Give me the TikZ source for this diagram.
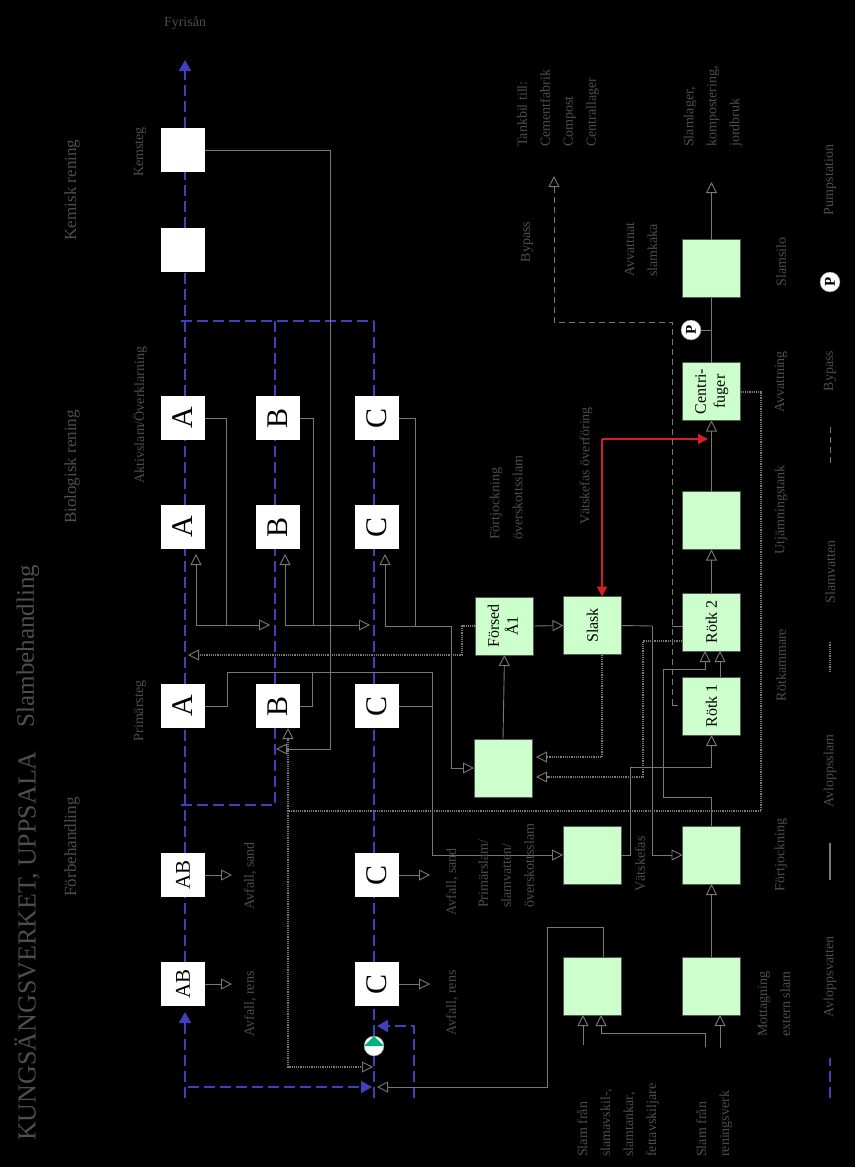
\documentclass[tikz,border=0pt]{standalone}
\usepackage{fontspec}
\usepackage{graphicx}
\setmainfont{Liberation Serif}
\usetikzlibrary{arrows.meta}

\definecolor{vattenblue}{RGB}{64,64,190}
\definecolor{slamgreen}{RGB}{204,255,204}
\definecolor{pumpgreen}{RGB}{0,175,130}
\definecolor{rejectred}{RGB}{210,32,40}
\definecolor{linegray}{RGB}{120,120,120}
\definecolor{labelgray}{RGB}{78,78,78}

\newcommand{\rot}[1]{\rotatebox{90}{#1}}
\newcommand{\twolines}[2]{\rot{\begin{tabular}{@{}c@{}}#1\\#2\end{tabular}}}

\tikzset{
    whitebox/.style={fill=white, minimum size=44pt, inner sep=0pt, outer sep=0pt, font=\fontsize{30}{30}\selectfont},
    greenbox/.style={fill=slamgreen, draw=linegray!70!black, line width=0.8pt, minimum size=58pt, inner sep=0pt, outer sep=0pt, font=\fontsize{16}{19}\selectfont},
    pumpcircle/.style={circle, fill=white, draw=linegray, minimum size=20pt, inner sep=0pt, outer sep=0pt, font=\bfseries\fontsize{15}{15}\selectfont},
    lbl/.style={rotate=90, text=labelgray, inner sep=0pt, font=\fontsize{14}{23}\selectfont, align=left},
    heading/.style={lbl, font=\fontsize{17}{20}\selectfont},
    vatten/.style={draw=vattenblue, line width=2pt, dash pattern=on 11pt off 5pt},
    vattenarrow/.style={vatten, -{Triangle[length=11pt,width=12pt]}},
    flow/.style={draw=linegray, line width=0.9pt},
    flowarrow/.style={flow, -{Triangle[open,length=11pt,width=11pt]}},
    slamvatten/.style={draw=linegray, line width=2pt, dash pattern=on 1.2pt off 1pt},
    slamarrow/.style={slamvatten, -{Triangle[open,length=11pt,width=11pt,line width=0.9pt,sep=0pt]}},
    bypass/.style={draw=linegray, line width=1pt, dash pattern=on 6pt off 4pt},
    reject/.style={draw=rejectred, line width=2pt, -{Triangle[length=10pt,width=10pt]}},
}

\begin{document}
\begin{tikzpicture}[x=1pt, y=-1pt]
    \fill[black] (0,0) rectangle (855,1167);
    \useasboundingbox (0,0) rectangle (855,1167);

    % Water line boxes
    \node[whitebox] (kem2) at (183,150) {};
    \node[whitebox] (kem1) at (183,250) {};
    \foreach \lane/\x in {A/183, B/278, C/377} {
        \node[whitebox] (bio\lane2) at (\x,418) {\rot{\lane}};
        \node[whitebox] (bio\lane1) at (\x,527) {\rot{\lane}};
        \node[whitebox] (prim\lane) at (\x,706) {\rot{\lane}};
    }
    \node[whitebox, font=\fontsize{21}{21}\selectfont] (preAB2) at (183,875) {\rot{AB}};
    \node[whitebox, font=\fontsize{21}{21}\selectfont] (preAB1) at (183,984) {\rot{AB}};
    \node[whitebox] (preC2) at (377,875) {\rot{C}};
    \node[whitebox] (preC1) at (377,984) {\rot{C}};

    % Sludge line boxes
    \node[greenbox] (motA) at (592.5,986) {};
    \node[greenbox] (motB) at (711.5,986) {};
    \node[greenbox] (fortA) at (592,855) {};
    \node[greenbox] (fortB) at (711.5,855) {};
    \node[greenbox] (mellan) at (503,768) {};
    \node[greenbox] (forsed) at (504.5,626) {\twolines{Försed}{Å1}};
    \node[greenbox] (slask) at (592.5,625.5) {\rot{Slask}};
    \node[greenbox] (rotk1) at (711.5,706) {\rot{Rötk 1}};
    \node[greenbox] (rotk2) at (711.5,622) {\rot{Rötk 2}};
    \node[greenbox] (utj) at (711.5,520.5) {};
    \node[greenbox] (cent) at (711.5,391.5) {\twolines{Centri-}{fuger}};
    \node[greenbox] (silo) at (711.5,268.5) {};

    % Pumps
    \node[pumpcircle] (pump) at (374,1046) {};
    \node[pumpcircle] (pumpP) at (691,330) {\rot{P}};
    \node[pumpcircle] (pumpL) at (830,282) {\rot{P}};
    \fill[pumpgreen] (pump.west) -- (pump.north) -- (pump.east) -- cycle;

    % Blue lanes for the three treatment lines
    \coordinate (laneA) at (185,60);
    \coordinate (laneB) at (275,321);
    \coordinate (laneC) at (374,321);
    \coordinate (startA) at (185,1098);
    \coordinate (startC) at (374,1098);
    \coordinate (splitL) at (181,321);
    \coordinate (splitB) at (180,805);
    \foreach \a/\b in {preAB1/preAB2, preAB2/primA, primA/bioA1, bioA1/bioA2, bioA2/kem1, kem1/kem2} {
        \draw[vatten] (laneA |- \a.north) -- (laneA |- \b.south);
    }
    \foreach \a/\b in {preC1/preC2, preC2/primC, primC/bioC1, bioC1/bioC2} {
        \draw[vatten] (laneC |- \a.north) -- (laneC |- \b.south);
    }
    \draw[vatten] (laneB |- primB.north) -- (laneB |- bioB1.south);
    \draw[vatten] (laneB |- bioB1.north) -- (laneB |- bioB2.south);
    \draw[vatten] (laneB |- bioB2.north) -- (laneB);
    \draw[vatten] (laneC |- bioC2.north) -- (laneC);
    \draw[vatten] (splitL) -- (laneC);
    \draw[vatten] (laneB |- primB.south) |- (splitB);
    \draw[vatten] (startC) -- (pump.south);
    \draw[vatten] (pump.north) -- (laneC |- preC1.south);
    \draw[vattenarrow] (laneA |- kem2.north) -- (laneA);
    \draw[vattenarrow, shorten >=6pt] (startA) -- (laneA |- preAB1.south);

    % Inflow and return on the blue side
    \coordinate (inflowA) at (188,1087);
    \coordinate (inflowC) at (372,1087);
    \coordinate (retfoot) at (414,1098);
    \coordinate (rettip) at (377,1026);
    \draw[vattenarrow] (inflowA) -- (inflowC);
    \draw[vattenarrow] (retfoot) |- (rettip);

    % Screenings and grit out of the pretreatment
    \foreach \n in {preAB1, preAB2} {
        \draw[flowarrow] (\n.east) -- ++(27,0);
    }
    \foreach \n in {preC1, preC2} {
        \draw[flowarrow] (\n.east) -- ++(31,0);
    }

    % Return sludge from the biological step
    \foreach \lane/\up/\join/\stop in {A/196/226/270, B/285/313/370} {
        \coordinate (ret\lane) at (\up,625);
        \coordinate (join\lane) at (\join,625);
        \coordinate (stop\lane) at (\stop,625);
        \draw[flow] (bio\lane2.east) -| (join\lane);
        \draw[flowarrow] (ret\lane) -- (stop\lane);
        \draw[flowarrow, shorten >=5pt] (ret\lane) -- (ret\lane |- bio\lane1.south);
    }
    \coordinate (retC) at (385,626);
    \coordinate (joinC) at (415,626);
    \coordinate (retD) at (451,626);
    \draw[flow] (bioC2.east) -| (joinC);
    \draw[flowarrow, shorten >=5pt] (retC) -- (retC |- bioC1.south);
    \draw[flow] (retC) -- (retD);
    \draw[flowarrow] (retD) |- (mellan.west);

    % Chemical sludge back to the primary step
    \coordinate (kemj) at (330,749);
    \coordinate (kemtip) at (276,749);
    \draw[flowarrow] (kem2.east) -| (kemj) -- (kemtip);

    % Primary sludge to thickening
    \coordinate (primjA) at (227,672);
    \coordinate (primjB) at (312,672);
    \coordinate (primjC) at (432,672);
    \draw[flow] (primA.east) -| (primjA) -- (primjC);
    \draw[flow] (primB.east) -| (primjB);
    \draw[flow] (primC.east) -| (primjC);
    \draw[flowarrow] (primjC) |- (fortA.west);

    % Sludge line
    \coordinate (rotj) at (630,767);
    \coordinate (slaskj) at (652,626);
    \coordinate (fortj) at (663,797);
    \coordinate (fortk) at (705,669);
    \coordinate (rotfoot) at (720,677);
    \coordinate (motj) at (603,927);
    \coordinate (motk) at (547,927);
    \coordinate (motfoot) at (603,957);
    \coordinate (motC) at (377,1087);
    \draw[flowarrow] (fortA.east) -| (rotj) -| (rotk1.south);
    \draw[flow] (slask.east) -- (slaskj);
    \draw[flowarrow] (slaskj) |- (fortB.west);
    \draw[flowarrow] (fortB.north) |- (fortj) |- (fortk) -- (fortk |- rotk2.south);
    \draw[flowarrow] (rotfoot) -- (rotfoot |- rotk2.south);
    \draw[flowarrow] (motfoot) -- (motj) -- (motk) |- (motC);
    \draw[flowarrow] (motB.north) -- (fortB.south);
    \draw[flowarrow] (mellan.north) -- (forsed.south);
    \draw[flowarrow] (forsed.east) -- (slask.west);
    \draw[flowarrow] (rotk2.north) -- (utj.south);
    \draw[flowarrow] (utj.north) -- (cent.south);
    \draw[flow] (cent.north) -- (silo.south);
    \draw[flow] (pumpP.east) -- (pumpP.east -| cent.north);
    \coordinate (silotip) at (711.5,182);
    \draw[flowarrow] (silo.north) -- (silotip);

    % Incoming external sludge
    \coordinate (inA) at (583,1045);
    \coordinate (inB) at (705,1047);
    \coordinate (inC) at (720,1048);
    \coordinate (inD) at (601,1033);
    \draw[flowarrow] (inA) -- (inA |- motA.south);
    \draw[flowarrow] (inB) |- (inD) -- (inD |- motA.south);
    \draw[flowarrow] (inC) -- (inC |- motB.south);

    % Reject water (red)
    \coordinate (rejectj) at (602,439);
    \coordinate (rejecttip) at (708,439);
    \draw[reject] (rejectj) -- (rejectj |- slask.north);
    \draw[reject] (rejectj) -- (rejecttip);

    % Sludge water (dotted)
    \coordinate (dotA) at (536,757);
    \coordinate (dotB) at (682,641);
    \coordinate (dotC) at (643,777);
    \coordinate (dotD) at (536,777);
    \coordinate (dotE) at (462,655);
    \coordinate (dotF) at (188,655);
    \coordinate (dotG) at (761,811);
    \coordinate (dotH) at (288,811);
    \coordinate (dotI) at (288,1067);
    \coordinate (dotJ) at (373,1067);
    \draw[slamarrow] (rejectj |- slask.south) |- (dotA);
    \draw[slamarrow] (dotB) -| (dotC) -- (dotD);
    \draw[slamarrow] (forsed.west) -| (dotE) -- (dotF);
    \draw[slamvatten] (cent.east) -| (dotG) -- (dotH);
    \draw[slamarrow] (dotH) -- (dotH |- primB.south);
    \draw[slamarrow] (dotH) -- (dotI) -- (dotJ);

    % Bypass (dashed)
    \coordinate (bpA) at (672,705);
    \coordinate (bpB) at (672,322);
    \coordinate (bpC) at (554,322);
    \coordinate (bpD) at (554,176);
    \coordinate (bpE) at (672,626);
    \coordinate (bpF) at (678,705);
    \draw[bypass, -{Triangle[open,length=11pt,width=11pt,line width=0.9pt]}] (bpA) -- (bpB) -- (bpC) -- (bpD);
    \draw[flow] (bpE) -- (bpE -| rotk2.west);
    \draw[flow] (bpA) -- (bpF);

    % Legend samples
    \draw[vatten] (830,1098) -- (830,1058);
    \draw[flow, line width=1.4pt] (830,880) -- (830,843);
    \draw[slamvatten] (830,672) -- (830,642);
    \draw[bypass] (830,463) -- (830,423);

    % Title and headings
    \node[lbl, font=\fontsize{26}{26}\selectfont] (title) at (27,946) {KUNGSÄNGSVERKET, UPPSALA};
    \node[lbl, font=\fontsize{25}{25}\selectfont] (subtitle) at (28,646) {Slambehandling};
    \node[heading] (hfor) at (72,847) {Förbehandling};
    \node[heading] (hbio) at (72,467) {Biologisk rening};
    \node[heading] (hkem) at (72,190) {Kemisk rening};
    \node[lbl] (fyris) at (185,23) [rotate=-90] {Fyrisån};

    % Step names
    \node[lbl] (lkem) at (140,152) {Kemsteg};
    \node[lbl] (lbio) at (140,415) {Aktivslam/Överklarning};
    \node[lbl] (lprim) at (140,711) {Primärsteg};
    \node[lbl] (lsand1) at (250,876) {Avfall, sand};
    \node[lbl] (lrens1) at (250,1004) {Avfall, rens};
    \node[lbl] (lsand2) at (452,882) {Avfall, sand};
    \node[lbl] (lrens2) at (452,1003) {Avfall, rens};

    % Sludge line names
    \node[lbl, anchor=west] (lover) at (506,908) {Primärslam/\\slamvatten/\\överskottsslam};
    \node[lbl, anchor=center] (lvat) at (640,864) {Vätskefas};
    \node[lbl, anchor=west] (lext) at (618,1157) {Slam från\\slamavskil-,\\slamtankar,\\fettavskiljare};
    \node[lbl, anchor=west] (lverk) at (714,1157) {Slam från\\reningsverk};
    \node[lbl, anchor=west] (lmot) at (774,1037) {Mottagning\\extern slam};
    \node[lbl] (lfort) at (781,855) {Förtjockning};
    \node[lbl] (lrot) at (781,665) {Rötkammare};
    \node[lbl] (lutj) at (781,510) {Utjämningstank};
    \node[lbl] (lavv) at (781,382) {Avvattning};
    \node[lbl] (lsilo) at (781,262) {Slamsilo};
    \node[lbl, anchor=west] (lfov) at (506,540) {Förtjockning\\överskottsslam};
    \node[lbl] (lvov) at (586,466) {Vätskefas överföring};
    \node[lbl, anchor=west] (lavs) at (641,277) {Avvattnat\\slamkaka};
    \node[lbl] (lbyp) at (527,242) {Bypass};
    \node[lbl, anchor=west] (ltank) at (558,147) {Tankbil till:\\Cementfabrik\\Compost\\Centrallager};
    \node[lbl, anchor=west] (lslam) at (713,147) {Slamlager,\\kompostering,\\jordbruk};

    % Legend texts
    \node[lbl] (lega) at (830,977) {Avloppsvatten};
    \node[lbl] (legb) at (830,771) {Avloppsslam};
    \node[lbl] (legc) at (830,572) {Slamvatten};
    \node[lbl] (legd) at (830,371) {Bypass};
    \node[lbl] (lege) at (830,180) {Pumpstation};
\end{tikzpicture}
\end{document}
